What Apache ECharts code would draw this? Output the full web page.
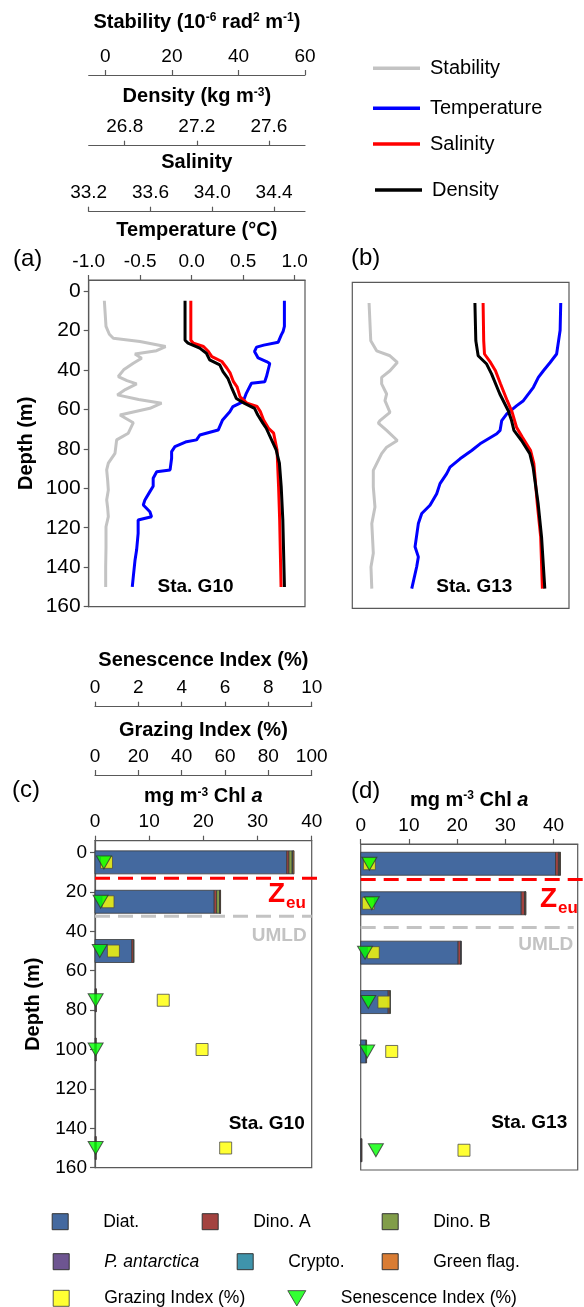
<!DOCTYPE html>
<html><head><meta charset="utf-8">
<script src="https://cdn.jsdelivr.net/npm/echarts@6.0.0/dist/echarts.min.js"></script>
<style>html,body{margin:0;padding:0;background:#fff}#c{width:584px;height:1307px}</style>
</head><body><div id="c"></div>
<script>
// ---------------- DATA ----------------
// Panel (a) Sta. G10 profiles
const stabA_depth = [5, 18, 22, 24, 25.7, 28.2, 30.3, 32, 34.1, 36.7, 40, 43.4, 45.5, 47.1, 50, 52.7, 55, 56.9, 59.5, 62.9, 66.8, 72.1, 75.5, 82.3, 87.3, 90.7, 96, 100.9, 105.9, 110, 114.4, 119.5, 130, 140, 150];
const stabA = [-0.3, 0.2, 1.2, 2.4, 10.4, 18.1, 15.4, 8.9, 10.9, 8.4, 5.5, 3.9, 6.5, 9.4, 6.0, 3.6, 10, 16.9, 13.4, 4.4, 8.4, 6.9, 3.4, 2.9, 0.9, 0.4, 0.7, 0.9, 0.4, 0.7, 0.9, 0.2, 0.2, 0.1, 0.1];
const tempA_depth = [5, 18, 20.6, 22.3, 26, 27.5, 28.5, 30.7, 34, 35.8, 36.8, 43.4, 46, 46.8, 51.9, 56.1, 58.6, 61.2, 65.4, 70.5, 73, 75.5, 76.4, 78.9, 81.4, 84.8, 90.7, 91.6, 94.9, 99, 101.7, 102.5, 105.9, 108.5, 111.9, 114.4, 116.1, 122.8, 131.3, 136.3, 144.8, 150];
const tempA = [0.90, 0.90, 0.887, 0.87, 0.84, 0.70, 0.63, 0.61, 0.645, 0.726, 0.758, 0.726, 0.709, 0.58, 0.53, 0.50, 0.40, 0.37, 0.30, 0.257, 0.079, 0.047, -0.05, -0.163, -0.195, -0.195, -0.21, -0.34, -0.374, -0.374, -0.406, -0.39, -0.454, -0.47, -0.406, -0.39, -0.52, -0.52, -0.535, -0.55, -0.567, -0.577];
const salA_depth = [5, 25, 26.5, 28.2, 30.7, 33.3, 35.8, 39.2, 41.7, 46, 48.6, 53.7, 56.9, 58.6, 61.2, 65.4, 69.6, 72.1, 80.6, 99.2, 116, 150];
const salA = [33.861, 33.861, 33.878, 33.943, 33.975, 33.997, 34.062, 34.095, 34.116, 34.137, 34.16, 34.18, 34.224, 34.29, 34.311, 34.332, 34.364, 34.397, 34.419, 34.429, 34.436, 34.445];
const denA_depth = [5, 25, 26.5, 29, 31.6, 35, 37.5, 40.9, 44.3, 48.6, 54.5, 57, 59.5, 62.9, 67, 69.6, 80.6, 87.3, 99.2, 116, 150];
const denA = [27.1345, 27.1345, 27.151, 27.216, 27.253, 27.271, 27.327, 27.345, 27.372, 27.391, 27.419, 27.465, 27.52, 27.538, 27.566, 27.585, 27.64, 27.658, 27.668, 27.677, 27.686];

// Panel (b) Sta. G13 profiles
const stabB_depth = [5, 24.2, 29.3, 31.8, 35.2, 39.4, 42.8, 46.1, 51.2, 54.6, 60.5, 64.7, 66, 69.7, 74.8, 78.2, 81.5, 90, 98.4, 108.6, 117, 132, 139, 150];
const stabB = [0.03, 0.54, 2.3, 6.3, 8.5, 6.3, 3.8, 3.8, 5.3, 4.8, 6.3, 3.3, 2.8, 5.3, 8.5, 5.3, 3.8, 1.3, 1.3, 1.8, 0.85, 1.3, 0.6, 0.85];
const tempB_depth = [5, 18.8, 30.9, 35.2, 39.4, 42.8, 47.8, 54.6, 57.1, 61.3, 64.7, 69.7, 71.4, 76.5, 79.9, 84.1, 88.3, 91.6, 96.7, 101.8, 107.7, 111.9, 117, 128.8, 133.9, 138.9, 150];
const tempB = [1.02, 1.014, 0.98, 0.917, 0.852, 0.803, 0.755, 0.658, 0.594, 0.497, 0.448, 0.432, 0.40, 0.238, 0.157, 0.044, -0.053, -0.085, -0.15, -0.182, -0.247, -0.327, -0.36, -0.392, -0.36, -0.376, -0.424];
const salB_depth = [5, 24.2, 30.9, 35.2, 39.4, 46.1, 54.6, 60.5, 68.1, 73.1, 79.9, 86.6, 106.8, 123.7, 150];
const salB = [34.045, 34.049, 34.054, 34.093, 34.125, 34.158, 34.201, 34.233, 34.261, 34.298, 34.352, 34.373, 34.395, 34.417, 34.428];
const denB_depth = [5, 24.2, 31.8, 36, 41, 51.2, 59.6, 64.7, 69.7, 74.8, 81.5, 88.3, 106.8, 123.7, 150];
const denB = [27.279, 27.284, 27.297, 27.344, 27.371, 27.417, 27.463, 27.482, 27.495, 27.537, 27.583, 27.601, 27.629, 27.648, 27.666];

// Panels (c)/(d): pigment-based Chl a by group (mg m-3)
const sampleDepths = [5, 25, 50, 75, 100, 150];
const groups = ['Diat.', 'Dino. A', 'Dino. B', 'P. antarctica', 'Crypto.', 'Green flag.'];
const diatC   = [35.4, 22.0, 6.8, 0.15, 0.12, 0.12];
const dinoAC  = [0.4, 0.45, 0.3, 0.03, 0.02, 0.02];
const dinoBC  = [0.6, 0.55, 0.05, 0, 0, 0];
const pantC   = [0.1, 0.05, 0, 0, 0, 0];
const cryptoC = [0.05, 0.02, 0, 0, 0, 0];
const greenC  = [0.2, 0.05, 0, 0, 0, 0];
const grazingC = [5.3, 6.0, 8.5, 31.5, 49.4, 60.3];
const senesC   = [0.41, 0.26, 0.22, 0.03, 0.03, 0.03];
const zeuC = 13, umldC = 32.3;

const diatD   = [40.4, 33.3, 20.2, 5.7, 1.1, 0.15];
const dinoAD  = [0.6, 0.7, 0.5, 0.35, 0.1, 0.02];
const dinoBD  = [0.05, 0.05, 0.03, 0.02, 0, 0];
const pantD   = [0.2, 0.05, 0.02, 0, 0, 0];
const cryptoD = [0.05, 0.02, 0, 0, 0, 0];
const greenD  = [0.05, 0.03, 0, 0, 0, 0];
const grazingD = [4.0, 3.5, 5.8, 10.7, 14.3, 47.6];
const senesD   = [0.40, 0.51, 0.2, 0.35, 0.30, 0.70];
const zeuD = 13, umldD = 37.2;

// Tick labels
const depthTicks = [0, 20, 40, 60, 80, 100, 120, 140, 160];
const tempTicks = [-1.0, -0.5, 0.0, 0.5, 1.0];
const salTicks = [33.2, 33.6, 34.0, 34.4];
const denTicks = [26.8, 27.2, 27.6];
const stabTicks = [0, 20, 40, 60];
const chlTicks = [0, 10, 20, 30, 40];
const grazTicks = [0, 20, 40, 60, 80, 100];
const senTicks = [0, 2, 4, 6, 8, 10];

// ---------------- STYLE ----------------
const FONT = '"Liberation Sans", Arial, Helvetica, sans-serif';
const AX = {color: '#595959', width: 1.2};
const groupColors = ['#44699f', '#a3423f', '#819d49', '#6e5591', '#3f94ab', '#d97c33'];

function pairs(v, d) { return v.map((x, i) => [x, d[i]]); }
const f1 = v => v.toFixed(1);

function topAxis(gridIndex, min, max, ticks, name, gap, offset, fmt, rich) {
  return {
    type: 'value', gridIndex, position: 'top', min, max, offset,
    name, nameLocation: 'middle', nameGap: gap,
    nameTextStyle: {fontFamily: FONT, fontSize: 20, fontWeight: 'bold', color: '#000', rich: rich || {}},
    axisLine: {show: true, onZero: false, lineStyle: AX},
    axisTick: {show: true, length: 5, customValues: ticks, lineStyle: AX},
    axisLabel: {show: true, customValues: ticks, formatter: fmt, fontFamily: FONT, fontSize: 19, color: '#000', margin: 9},
    splitLine: {show: false}
  };
}
function hidden(gridIndex, min, max) { return {type: 'value', gridIndex, min, max, show: false, splitLine: {show: false}}; }
function depthAxis(gridIndex, min, show, fs) {
  if (!show) return {type: 'value', gridIndex, inverse: true, min, max: 160, show: false, splitLine: {show: false}};
  return {
    type: 'value', gridIndex, inverse: true, min, max: 160,
    name: 'Depth (m)', nameLocation: 'middle', nameGap: 52, nameRotate: 90,
    nameTextStyle: {fontFamily: FONT, fontSize: 20, fontWeight: 'bold', color: '#000'},
    axisLine: {show: true, onZero: false, lineStyle: AX},
    axisTick: {show: true, length: 5, customValues: depthTicks, lineStyle: AX},
    axisLabel: {customValues: depthTicks, fontFamily: FONT, fontSize: fs, color: '#000', margin: 8},
    splitLine: {show: false}
  };
}
const supS = {fontFamily: FONT, fontSize: 12, fontWeight: 'bold', color: '#000', verticalAlign: 'top'};
const txtS = {fontFamily: FONT, fontSize: 20, fontWeight: 'bold', color: '#000'};

function lineSeries(name, x, y, data, color, z) {
  return {type: 'line', name, xAxisIndex: x, yAxisIndex: y, data, showSymbol: false, symbol: 'none',
    color, lineStyle: {color, width: 3}, itemStyle: {color}, z, silent: true};
}

function barRender(params, api) {
  const d = api.value(0), x0 = api.value(1), x1 = api.value(2);
  if (!(x1 > x0)) return null;
  const p0 = api.coord([x0, d]), p1 = api.coord([x1, d]);
  const h = 23;
  return {type: 'rect', shape: {x: p0[0], y: p0[1] - h / 2, width: Math.max(p1[0] - p0[0], 0.6), height: h},
    style: {fill: api.visual('color'), stroke: '#3a3a3a', lineWidth: 0.8}};
}
function stackSeries(arrs, xIdx, yIdx) {
  const out = [];
  const cum = sampleDepths.map(() => 0);
  arrs.forEach((arr, g) => {
    const data = arr.map((v, i) => { const s = cum[i]; cum[i] += v; return [sampleDepths[i], s, cum[i]]; });
    out.push({type: 'custom', name: groups[g], xAxisIndex: xIdx, yAxisIndex: yIdx, data,
      encode: {x: [1, 2], y: 0}, renderItem: barRender, itemStyle: {color: groupColors[g]}, z: 3, silent: true});
  });
  return out;
}
function hLine(depth, xIdx, yIdx, color, extra) {
  return {type: 'custom', xAxisIndex: xIdx, yAxisIndex: yIdx, data: [[depth]], silent: true, z: 4,
    encode: {y: 0},
    renderItem: (params, api) => {
      const p = api.coord([0, api.value(0)]);
      const cs = params.coordSys;
      return {type: 'line', shape: {x1: cs.x, y1: p[1], x2: cs.x + cs.width + extra, y2: p[1]},
        style: {stroke: color, lineWidth: 3, lineDash: [15, 8]}};
    }};
}
function scat(name, x, y, data, kind) {
  if (kind === 'sq') return {type: 'scatter', name, xAxisIndex: x, yAxisIndex: y, data, symbol: 'rect', symbolSize: 12,
    itemStyle: {color: '#ffff00', borderColor: '#4d4d4d', borderWidth: 1}, z: 5, silent: true};
  return {type: 'scatter', name, xAxisIndex: x, yAxisIndex: y, data, symbol: 'path://M0,0L20,0L10,17Z', symbolSize: [15, 13],
    itemStyle: {color: '#00ff00', borderColor: '#333', borderWidth: 1}, z: 6, silent: true};
}

function legendTop(name, left, cy) {
  return {show: true, selectedMode: false, orient: 'horizontal', left, top: cy - 10, padding: 0,
    data: [name], icon: 'rect', itemWidth: 47, itemHeight: 3.5,
    textStyle: {fontFamily: FONT, fontSize: 20, color: '#000', padding: [0, 0, 0, 5]}};
}
function legendBot(item, left, cy, icon, w) {
  return {show: true, selectedMode: false, left, top: cy - 9, padding: 0,
    data: [item], icon: icon || 'rect', itemWidth: w || 16, itemHeight: 16,
    itemStyle: {borderColor: '#333', borderWidth: 1},
    textStyle: {fontFamily: FONT, fontSize: 17.5, color: '#000', padding: [0, 0, 0, 30]}};
}

const option = {
  animation: false,
  backgroundColor: '#fff',
  grid: [
    {left: 88.7, top: 280, width: 216.3, height: 326.7, show: true, borderColor: '#595959', borderWidth: 1.2},
    {left: 352.3, top: 282.3, width: 216.7, height: 326, show: true, borderColor: '#595959', borderWidth: 1.2},
    {left: 95, top: 840.7, width: 216.7, height: 327, show: true, borderColor: '#595959', borderWidth: 1.2},
    {left: 360.7, top: 844, width: 217, height: 326, show: true, borderColor: '#595959', borderWidth: 1.2}
  ],
  xAxis: [
    topAxis(0, -1, 1.1, tempTicks, 'Temperature (°C)', 40, 0, f1),
    topAxis(0, 33.2, 34.6, salTicks, 'Salinity', 39, 68.3, f1),
    topAxis(0, 26.6, 27.8, denTicks, '{t|Density (kg m}{s|-3}{t|)}', 39, 134.3, f1, {t: txtS, s: supS}),
    topAxis(0, -5, 60, stabTicks, '{t|Stability (10}{s|-6}{t| rad}{s|2}{t| m}{s|-1}{t|)}', 43, 205, v => String(v), {t: txtS, s: supS}),
    hidden(1, -1, 1.1), hidden(1, 33.2, 34.6), hidden(1, 26.6, 27.8), hidden(1, -5, 60),
    topAxis(2, 0, 40, chlTicks, '{t|mg m}{s|-3}{t| Chl }{i|a}', 34, 0, v => String(v),
      {t: txtS, s: supS, i: Object.assign({}, txtS, {fontStyle: 'italic'})}),
    topAxis(2, 0, 100, grazTicks, 'Grazing Index (%)', 35, 65.7, v => String(v)),
    topAxis(2, 0, 10, senTicks, 'Senescence Index (%)', 36, 134, v => String(v)),
    topAxis(3, 0, 45, chlTicks, '{t|mg m}{s|-3}{t| Chl }{i|a}', 34, 0, v => String(v),
      {t: txtS, s: supS, i: Object.assign({}, txtS, {fontStyle: 'italic'})}),
    hidden(3, 0, 100), hidden(3, 0, 10)
  ],
  yAxis: [depthAxis(0, -5.5, true, 21), depthAxis(1, -5.5, false), depthAxis(2, -6, true, 19), depthAxis(3, -5, false)],
  legend: [
    legendTop('Stability', 373, 68.3),
    legendTop('Temperature', 373, 108.3),
    legendTop('Salinity', 373, 144),
    legendTop('Density', 375, 190),
    legendBot('Diat.', 51.7, 1221.7),
    legendBot('Dino. A', 201.7, 1221.7),
    legendBot('Dino. B', 381.7, 1221.7),
    legendBot({name: 'P. antarctica', textStyle: {fontStyle: 'italic'}}, 52.7, 1261.7),
    legendBot('Crypto.', 236.7, 1261.7),
    legendBot('Green flag.', 381.7, 1261.7),
    legendBot('Grazing Index (%)', 52.7, 1298.3),
    legendBot('Senescence Index (%)', 287.3, 1298.3, 'path://M0,0L20,0L10,17Z', 18)
  ],
  series: [
    lineSeries('Stability', 3, 0, pairs(stabA, stabA_depth), '#c3c3c3', 2),
    lineSeries('Temperature', 0, 0, pairs(tempA, tempA_depth), '#0000ff', 3),
    lineSeries('Salinity', 1, 0, pairs(salA, salA_depth), '#ff0000', 3),
    lineSeries('Density', 2, 0, pairs(denA, denA_depth), '#000000', 4),
    lineSeries('Stability', 7, 1, pairs(stabB, stabB_depth), '#c3c3c3', 2),
    lineSeries('Temperature', 4, 1, pairs(tempB, tempB_depth), '#0000ff', 3),
    lineSeries('Salinity', 5, 1, pairs(salB, salB_depth), '#ff0000', 3),
    lineSeries('Density', 6, 1, pairs(denB, denB_depth), '#000000', 4),
    ...stackSeries([diatC, dinoAC, dinoBC, pantC, cryptoC, greenC], 8, 2),
    ...stackSeries([diatD, dinoAD, dinoBD, pantD, cryptoD, greenD], 11, 3),
    hLine(zeuC, 8, 2, '#ff0000', 11),
    hLine(umldC, 8, 2, '#c3c3c3', 0),
    hLine(zeuD, 11, 3, '#ff0000', 10),
    hLine(umldD, 11, 3, '#c3c3c3', -4),
    scat('Grazing Index (%)', 9, 2, pairs(grazingC, sampleDepths), 'sq'),
    scat('Senescence Index (%)', 10, 2, pairs(senesC, sampleDepths), 'tri'),
    scat('Grazing Index (%)', 12, 3, pairs(grazingD, sampleDepths), 'sq'),
    scat('Senescence Index (%)', 13, 3, pairs(senesD, sampleDepths), 'tri')
  ],
  graphic: [
    {type: 'text', x: 13, y: 259, style: {text: '(a)', font: '24px ' + FONT, fill: '#000', verticalAlign: 'middle'}},
    {type: 'text', x: 351, y: 258, style: {text: '(b)', font: '24px ' + FONT, fill: '#000', verticalAlign: 'middle'}},
    {type: 'text', x: 12, y: 790, style: {text: '(c)', font: '24px ' + FONT, fill: '#000', verticalAlign: 'middle'}},
    {type: 'text', x: 351, y: 791.7, style: {text: '(d)', font: '24px ' + FONT, fill: '#000', verticalAlign: 'middle'}},
    {type: 'text', x: 195.5, y: 586.7, style: {text: 'Sta. G10', font: 'bold 19px ' + FONT, fill: '#000', align: 'center', verticalAlign: 'middle'}, z: 10},
    {type: 'text', x: 474.3, y: 586.7, style: {text: 'Sta. G13', font: 'bold 19px ' + FONT, fill: '#000', align: 'center', verticalAlign: 'middle'}, z: 10},
    {type: 'text', x: 266.7, y: 1123.3, style: {text: 'Sta. G10', font: 'bold 19px ' + FONT, fill: '#000', align: 'center', verticalAlign: 'middle'}, z: 10},
    {type: 'text', x: 529.2, y: 1122.7, style: {text: 'Sta. G13', font: 'bold 19px ' + FONT, fill: '#000', align: 'center', verticalAlign: 'middle'}, z: 10},
    {type: 'text', x: 268, y: 894, style: {text: 'Z', font: 'bold 28px ' + FONT, fill: '#ff0000', verticalAlign: 'middle'}},
    {type: 'text', x: 286, y: 903, style: {text: 'eu', font: 'bold 17px ' + FONT, fill: '#ff0000', verticalAlign: 'middle'}},
    {type: 'text', x: 540, y: 899, style: {text: 'Z', font: 'bold 28px ' + FONT, fill: '#ff0000', verticalAlign: 'middle'}},
    {type: 'text', x: 558, y: 908, style: {text: 'eu', font: 'bold 17px ' + FONT, fill: '#ff0000', verticalAlign: 'middle'}},
    {type: 'text', x: 279.2, y: 935.7, style: {text: 'UMLD', font: 'bold 19px ' + FONT, fill: '#c3c3c3', align: 'center', verticalAlign: 'middle'}},
    {type: 'text', x: 545.8, y: 945, style: {text: 'UMLD', font: 'bold 19px ' + FONT, fill: '#c3c3c3', align: 'center', verticalAlign: 'middle'}}
  ]
};
const chart = echarts.init(document.getElementById('c'), null, {renderer: 'canvas'});
chart.setOption(option);
</script></body></html>
